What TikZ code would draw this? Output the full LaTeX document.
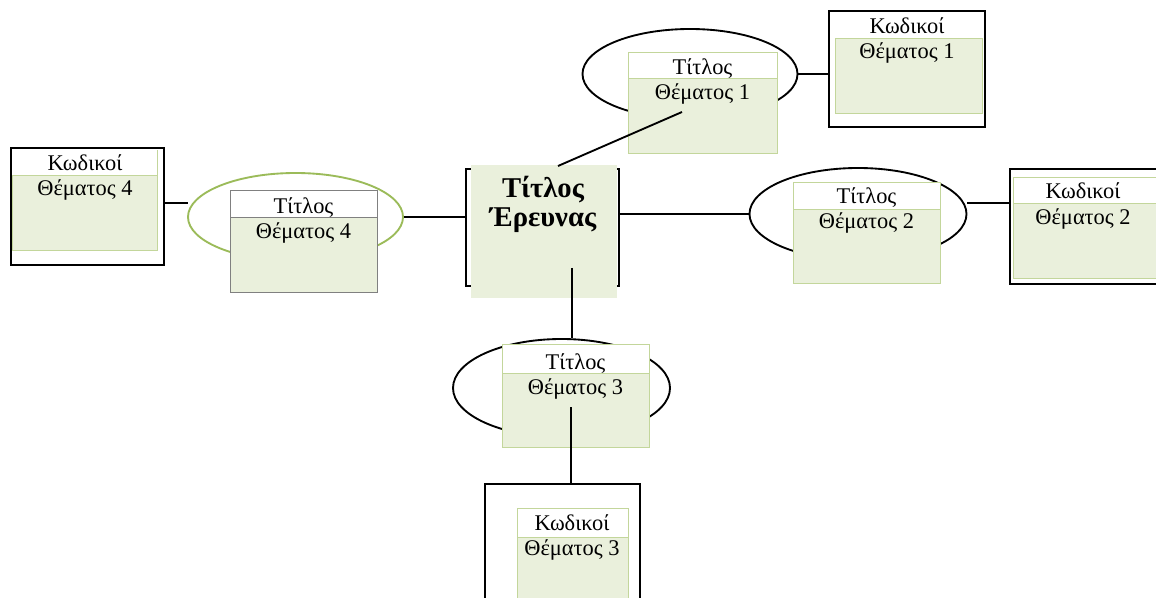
\documentclass[tikz,border=0pt]{standalone}
\usepackage{fontspec}
\setmainfont{Liberation Serif}
\usetikzlibrary{shapes.geometric}
\definecolor{gfill}{HTML}{EAF0DC}
\definecolor{gline}{HTML}{C3D69B}
\definecolor{olive}{HTML}{9BBB59}
\begin{document}
\begin{tikzpicture}[x=0.75pt,y=-0.75pt,
  frame/.style={draw=black,line width=1.6pt,fill=white,inner sep=0pt},
  gbox/.style={draw=gline,line width=0.5pt,fill=gfill,inner sep=0pt},
  hbox/.style={draw=gline,line width=0.5pt,fill=white,inner sep=0pt},
  oval/.style={ellipse,draw=black,line width=1.4pt,inner sep=0pt},
  conn/.style={draw=black,line width=1.4pt},
  lbl/.style={font=\fontsize{16.8pt}{20pt}\selectfont,anchor=base,inner sep=0pt},
  ttl/.style={font=\fontsize{21.5pt}{26pt}\selectfont\bfseries,anchor=base,inner sep=0pt}]
\useasboundingbox (0,0) rectangle (1156,598);
\clip (0,0) rectangle (1156,598);
\fill[white] (0,0) rectangle (1156,598);

% ---------- frames of black boxes ----------
\node[frame,minimum width=153*0.75pt,minimum height=117*0.75pt] (cf) at (542.5,227.5) {};
\node[frame,minimum width=156*0.75pt,minimum height=116*0.75pt] (f1) at (907,69) {};
\node[frame,minimum width=160*0.75pt,minimum height=115*0.75pt] (f2) at (1090,226.5) {};
\node[frame,minimum width=155*0.75pt,minimum height=136*0.75pt] (f3) at (562.5,552) {};
\node[frame,minimum width=153*0.75pt,minimum height=117*0.75pt] (f4) at (87.5,206.5) {};

% ---------- ellipses ----------
\node[oval,minimum width=215*0.75pt,minimum height=90*0.75pt] (e1) at (690,74) {};
\node[oval,minimum width=217*0.75pt,minimum height=92*0.75pt] (e2) at (858,214) {};
\node[oval,minimum width=217*0.75pt,minimum height=98*0.75pt] (e3) at (561.5,388) {};
\node[oval,draw=olive,minimum width=215*0.75pt,minimum height=88*0.75pt] (e4) at (295.5,217) {};

% ---------- central box ----------
\node[gbox,draw=none,minimum width=146*0.75pt,minimum height=133*0.75pt] (c) at (544,231.5) {};

% ---------- theme boxes ----------
\node[gbox,minimum width=149*0.75pt,minimum height=101*0.75pt] (t1) at (702.5,102.5) {};
\node[hbox,minimum width=149*0.75pt,minimum height=26*0.75pt] (t1h) at (702.5,65) {};
\node[gbox,minimum width=147*0.75pt,minimum height=101*0.75pt] (t2) at (866.5,232.5) {};
\node[hbox,minimum width=147*0.75pt,minimum height=27*0.75pt] (t2h) at (866.5,195.5) {};
\node[gbox,minimum width=147*0.75pt,minimum height=103*0.75pt] (t3) at (575.5,395.5) {};
\node[hbox,minimum width=147*0.75pt,minimum height=29*0.75pt] (t3h) at (575.5,358.5) {};
\node[gbox,draw=gray,minimum width=147*0.75pt,minimum height=102*0.75pt] (t4) at (303.5,241) {};
\node[hbox,draw=gray,minimum width=147*0.75pt,minimum height=27*0.75pt] (t4h) at (303.5,203.5) {};

% ---------- code boxes (inner) ----------
\node[gbox,minimum width=147*0.75pt,minimum height=75*0.75pt] (k1) at (908.5,75.5) {};
\node[hbox,minimum width=157*0.75pt,minimum height=26*0.75pt] (k2h) at (1091.5,190) {};
\node[gbox,minimum width=157*0.75pt,minimum height=75*0.75pt] (k2) at (1091.5,240.5) {};
\node[hbox,minimum width=111*0.75pt,minimum height=29*0.75pt] (k3h) at (572.5,522.5) {};
\node[gbox,minimum width=111*0.75pt,minimum height=83*0.75pt] (k3) at (572.5,578.5) {};
\node[gbox,minimum width=145*0.75pt,minimum height=75*0.75pt] (k4) at (84.5,212.5) {};
\draw[gline,line width=0.5pt] (157,150) -- (157,175);

% ---------- texts ----------
\node[ttl] (ct1) at (543,198) {Τίτλος};
\node[ttl] (ct2) at (543,227) {Έρευνας};

\node[lbl] (a1) at (702.5,75) {Τίτλος};
\node[lbl] (b1) at (702.5,100) {Θέματος 1};
\node[lbl] (a2) at (866.5,204) {Τίτλος};
\node[lbl] (b2) at (866.5,229) {Θέματος 2};
\node[lbl] (a3) at (575.5,369) {Τίτλος};
\node[lbl] (b3) at (575.5,394) {Θέματος 3};
\node[lbl] (a4) at (303.5,214) {Τίτλος};
\node[lbl] (b4) at (303.5,239) {Θέματος 4};

\node[lbl] (ka1) at (907,34) {Κωδικοί};
\node[lbl] (kb1) at (907,59) {Θέματος 1};
\node[lbl] (ka2) at (1083,199) {Κωδικοί};
\node[lbl] (kb2) at (1083,225) {Θέματος 2};
\node[lbl] (ka3) at (572,530) {Κωδικοί};
\node[lbl] (kb3) at (572,555) {Θέματος 3};
\node[lbl] (ka4) at (85,171) {Κωδικοί};
\node[lbl] (kb4) at (85,196) {Θέματος 4};

% ---------- connectors ----------
\coordinate (p1) at (558,166);
\coordinate (q1) at (682,112);
\draw[conn] (p1) -- (q1);
\draw[conn] (e1.east) -- (e1.east -| f1.west);

\draw[conn] (e2.west -| cf.east) -- (e2.west);
\coordinate (p2) at (967,203);
\draw[conn] (p2) -- (p2 -| f2.west);

\coordinate (p3) at (572,268);
\draw[conn] (p3) -- (p3 |- e3.north);
\coordinate (q3) at (571,407);
\draw[conn] (q3) -- (q3 |- f3.north);

\draw[conn] (e4.east) -- (e4.east -| cf.west);
\coordinate (p4) at (188,203);
\draw[conn] (p4 -| f4.east) -- (p4);
\end{tikzpicture}
\end{document}
